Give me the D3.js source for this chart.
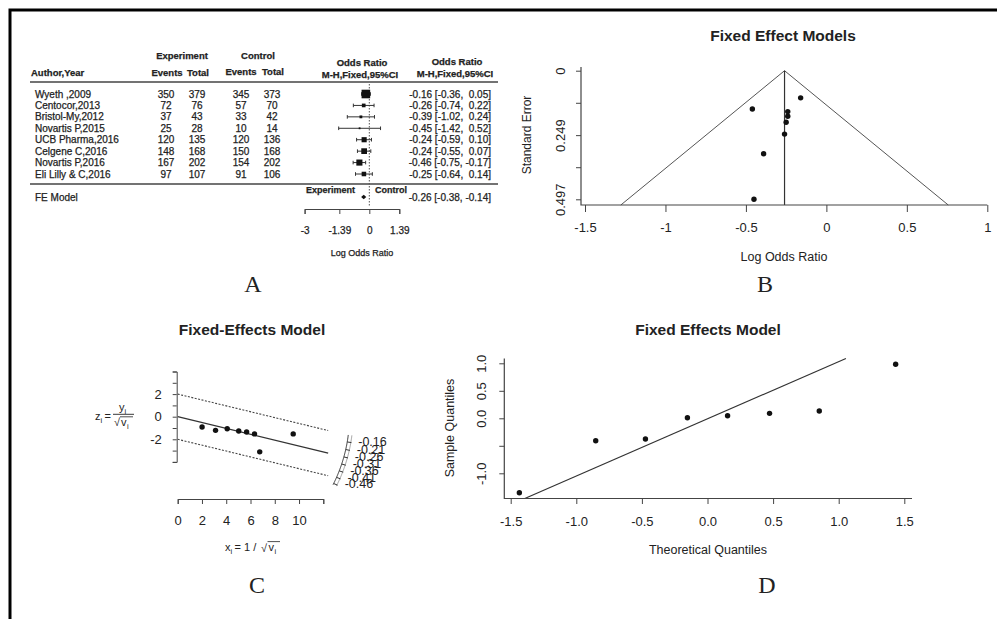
<!DOCTYPE html>
<html>
<head>
<meta charset="utf-8">
<script src="https://cdnjs.cloudflare.com/ajax/libs/d3/7.8.5/d3.min.js"></script>
<style>
  body { margin: 0; background: #fff; }
  svg text { font-family: "Liberation Sans", Arial, sans-serif; fill: #222; }
  .forest text { stroke: #222; stroke-width: 0.25; }
</style>
</head>
<body>
<div id="chart"></div>
<script>
// ---- data ----
const studies = ["Wyeth ,2009", "Centocor,2013", "Bristol-My,2012", "Novartis P,2015",
  "UCB Pharma,2016", "Celgene C,2016", "Novartis P,2016", "Eli Lilly & C,2016"];
const expEvents = [350, 72, 37, 25, 120, 148, 167, 97];
const expTotal = [379, 76, 43, 28, 135, 168, 202, 107];
const ctrlEvents = [345, 57, 33, 10, 120, 150, 154, 91];
const ctrlTotal = [373, 70, 42, 14, 136, 168, 202, 106];
const logOR = [-0.16, -0.26, -0.39, -0.45, -0.24, -0.24, -0.46, -0.25];
const ciLow = [-0.36, -0.74, -1.02, -1.42, -0.59, -0.55, -0.75, -0.64];
const ciHigh = [0.05, 0.22, 0.24, 0.52, 0.10, 0.07, -0.17, 0.14];
const stdErr = [0.105, 0.245, 0.321, 0.497, 0.176, 0.158, 0.148, 0.199];
const feModel = { est: -0.26, low: -0.38, high: -0.14 };
const forestTicks = [-3, -1.39, 0, 1.39];

const funnelXTicks = [-1.5, -1, -0.5, 0, 0.5, 1];
const funnelYTicks = [0, 0.124, 0.249, 0.373, 0.497];
const funnelYLabels = ["0", "", "0.249", "", "0.497"];

// radial (Galbraith) plot, panel C
const radialXi = [9.52, 4.08, 3.12, 2.01, 5.68, 6.33, 6.76, 5.03];
const radialZi = [-1.52, -1.06, -1.21, -0.91, -1.36, -1.52, -3.11, -1.26];
const radialArcLabels = [-0.16, -0.21, -0.26, -0.31, -0.36, -0.41, -0.46];
const radialXTicks = [0, 2, 4, 6, 8, 10, 12];
const radialXLabels = ["0", "2", "4", "6", "8", "10", ""];
const radialYTicks = [-4, -3, -2, -1, 0, 1, 2, 3, 4];
const radialYLabels = ["", "", "-2", "", "0", "", "2", "", ""];

// normal QQ plot, panel D
const qqTheoretical = [-1.434, -0.852, -0.473, -0.153, 0.153, 0.473, 0.852, 1.434];
const qqSample = [-1.353, -0.407, -0.376, 0.011, 0.047, 0.09, 0.133, 0.982];
const qqXTicks = [-1.5, -1, -0.5, 0, 0.5, 1, 1.5];
const qqYTicks = [-1, -0.5, 0, 0.5, 1];
const qqYLabels = ["-1.0", "", "0.0", "0.5", "1.0"];
const qqLine = { intercept: -0.01, slope: 1.04 };

const W = 997, H = 619;
const svg = d3.select("#chart").append("svg").attr("width", W).attr("height", H);
svg.append("rect").attr("width", W).attr("height", H).attr("fill", "#fff");
svg.append("path").attr("d", "M10,619V10H997")
  .attr("fill", "none").attr("stroke", "#000").attr("stroke-width", 3);

function label(g, t, x, y, size, opts = {}) {
  return g.append("text")
    .attr("x", x).attr("y", y).attr("dy", "0.35em")
    .attr("font-size", size)
    .attr("font-weight", opts.weight || "normal")
    .attr("text-anchor", opts.anchor || "middle")
    .attr("transform", opts.rotate ? `rotate(-90,${x},${y})` : null)
    .text(t);
}

function styleAxis(sel, size) {
  sel.attr("color", "#444").attr("font-size", size).attr("font-family", null);
  sel.selectAll("text").style("fill", "#222");
}

// rotated tick labels like R's default y axis
function rotateTickLabels(sel, offset) {
  sel.selectAll(".tick text")
    .attr("x", null).attr("dy", "0.35em")
    .attr("text-anchor", "middle")
    .attr("transform", `translate(${offset},0) rotate(-90)`);
}

function panelLetter(t, x, y) {
  svg.append("text").attr("x", x).attr("y", y)
    .attr("text-anchor", "middle").attr("font-size", 24)
    .style("font-family", "'Liberation Serif', 'Times New Roman', serif")
    .text(t);
}

// ---------- A: forest plot ----------
function drawForest() {
  const g = svg.append("g").attr("class", "forest");
  const x = d3.scaleLinear().domain([-3, 1.39]).range([304.6, 399.3]);
  const y = d3.scalePoint().domain(studies).range([94, 174]);
  const maxW = d3.max(stdErr, s => 1 / (s * s));

  label(g, "Experiment", 182, 56, 9.5, { weight: "bold" });
  label(g, "Control", 258, 56, 9.5, { weight: "bold" });
  label(g, "Author,Year", 31, 73, 9.5, { weight: "bold", anchor: "start" });
  label(g, "Events", 167, 73, 9.5, { weight: "bold" });
  label(g, "Total", 198, 73, 9.5, { weight: "bold" });
  label(g, "Events", 241, 72, 9.5, { weight: "bold" });
  label(g, "Total", 273, 72, 9.5, { weight: "bold" });
  label(g, "Odds Ratio", 362, 63, 9.5, { weight: "bold" });
  label(g, "M-H,Fixed,95%CI", 360, 75, 9.5, { weight: "bold" });
  label(g, "Odds Ratio", 457, 62, 9.5, { weight: "bold" });
  label(g, "M-H,Fixed,95%CI", 455, 74, 9.5, { weight: "bold" });

  [82, 184].forEach(yy => g.append("line")
    .attr("x1", 30).attr("x2", 498).attr("y1", yy).attr("y2", yy)
    .attr("stroke", "#444").attr("stroke-width", 1.6));

  // reference line at 0
  g.append("line").attr("x1", x(0)).attr("x2", x(0)).attr("y1", 84).attr("y2", 206)
    .attr("stroke", "#555").attr("stroke-dasharray", "1.5,1.5");

  const fmt = v => (v < 0 ? "" : " ") + v.toFixed(2);
  studies.forEach((s, i) => {
    const yy = y(s);
    label(g, s, 35, yy, 10, { anchor: "start" });
    label(g, expEvents[i], 166, yy, 10);
    label(g, expTotal[i], 197, yy, 10);
    label(g, ctrlEvents[i], 241, yy, 10);
    label(g, ctrlTotal[i], 272, yy, 10);
    g.append("text").attr("x", 491).attr("y", yy).attr("dy", "0.35em")
      .attr("font-size", 10).attr("text-anchor", "end")
      .style("white-space", "pre").attr("xml:space", "preserve")
      .text(`${logOR[i].toFixed(2)} [${ciLow[i].toFixed(2)}, ${fmt(ciHigh[i])}]`);

    g.append("line").attr("x1", x(ciLow[i])).attr("x2", x(ciHigh[i]))
      .attr("y1", yy).attr("y2", yy).attr("stroke", "#333");
    [ciLow[i], ciHigh[i]].forEach(v => g.append("line")
      .attr("x1", x(v)).attr("x2", x(v)).attr("y1", yy - 1.8).attr("y2", yy + 1.8)
      .attr("stroke", "#333"));
    const side = Math.max(1.8, 8.6 * Math.sqrt((1 / (stdErr[i] * stdErr[i])) / maxW));
    g.append("rect").attr("x", x(logOR[i]) - side / 2).attr("y", yy - side / 2)
      .attr("width", side).attr("height", side).attr("fill", "#111");
  });

  // FE model row
  const fy = 197;
  label(g, "FE Model", 35, fy, 10, { anchor: "start" });
  label(g, "Experiment", 355, 190, 9, { weight: "bold", anchor: "end" });
  label(g, "Control", 375, 190, 9, { weight: "bold", anchor: "start" });
  g.append("path")
    .attr("d", `M${x(feModel.low)},${fy}L${x(feModel.est)},${fy - 2.2}L${x(feModel.high)},${fy}L${x(feModel.est)},${fy + 2.2}Z`)
    .attr("fill", "#111");
  label(g, `${feModel.est.toFixed(2)} [${feModel.low.toFixed(2)}, ${feModel.high.toFixed(2)}]`, 491, fy, 10, { anchor: "end" });

  const ax = g.append("g").attr("transform", "translate(0,209)")
    .call(d3.axisBottom(x).tickValues(forestTicks).tickSize(5).tickSizeOuter(5)
      .tickPadding(13).tickFormat(d => String(d)));
  styleAxis(ax, 10);
  label(g, "Log Odds Ratio", 362, 253, 9);
}

// ---------- B: funnel plot ----------
function drawFunnel() {
  const g = svg.append("g");
  const x = d3.scaleLinear().domain([-1.5, 1]).range([585, 987.3]);
  const y = d3.scaleLinear().domain([0, 0.497]).range([70.7, 199.3]);
  const bottom = 205;
  const seB = y.invert(bottom);

  label(g, "Fixed Effect Models", 783, 36, 15.5, { weight: "bold" });

  g.append("path")
    .attr("d", d3.line()([[x(feModel.est - 1.96 * seB), bottom], [x(feModel.est), y(0)],
      [x(feModel.est + 1.96 * seB), bottom]]))
    .attr("fill", "none").attr("stroke", "#555").attr("stroke-width", 1);
  g.append("line").attr("x1", x(feModel.est)).attr("x2", x(feModel.est))
    .attr("y1", y(0)).attr("y2", bottom).attr("stroke", "#333").attr("stroke-width", 1.2);

  g.append("path").attr("d", `M581,67V${bottom}H987.3`)
    .attr("fill", "none").attr("stroke", "#444").attr("stroke-width", 1.2);

  const ax = g.append("g").attr("transform", `translate(0,${bottom})`)
    .call(d3.axisBottom(x).tickValues(funnelXTicks).tickSize(7).tickPadding(11)
      .tickFormat(d => String(d)));
  ax.select(".domain").remove();
  styleAxis(ax, 13);

  const ay = g.append("g").attr("transform", "translate(581,0)")
    .call(d3.axisLeft(y).tickValues(funnelYTicks).tickSize(5)
      .tickFormat((d, i) => funnelYLabels[i]));
  ay.select(".domain").remove();
  styleAxis(ay, 13);
  rotateTickLabels(ay, -21);

  g.selectAll("circle").data(logOR).enter().append("circle")
    .attr("cx", d => x(d)).attr("cy", (d, i) => y(stdErr[i]))
    .attr("r", 2.7).attr("fill", "#111");

  label(g, "Standard Error", 527, 135, 12, { rotate: true });
  label(g, "Log Odds Ratio", 784, 257, 12.5);
}

// ---------- C: radial plot ----------
function drawRadial() {
  const g = svg.append("g");
  const x = d3.scaleLinear().domain([0, 12]).range([177.7, 323.3]);
  const y = d3.scaleLinear().domain([-4, 4]).range([461.9, 371.5]);
  const xEnd = 12.4;

  label(g, "Fixed-Effects Model", 252, 330, 15.5, { weight: "bold" });

  g.append("line").attr("x1", x(0)).attr("y1", y(0))
    .attr("x2", x(xEnd)).attr("y2", y(feModel.est * xEnd))
    .attr("stroke", "#333").attr("stroke-width", 1.3);
  [2, -2].forEach(c => g.append("line")
    .attr("x1", x(0)).attr("y1", y(c))
    .attr("x2", x(xEnd)).attr("y2", y(c + feModel.est * xEnd))
    .attr("stroke", "#444").attr("stroke-width", 1.1).attr("stroke-dasharray", "2,1.5"));

  // arc scale on the right
  const R = 14.15;
  const pt = (v, r) => [x(r * Math.cos(Math.atan(v))), y(r * Math.sin(Math.atan(v)))];
  const arcVals = d3.range(-0.115, -0.471, -0.005);
  g.append("path").attr("d", d3.line()(arcVals.map(v => pt(v, R))))
    .attr("fill", "none").attr("stroke", "#333").attr("stroke-width", 1);
  g.append("path").attr("d", d3.line()(arcVals.map(v => pt(v, R + 0.3))))
    .attr("fill", "none").attr("stroke", "#666").attr("stroke-width", 0.6);
  radialArcLabels.forEach(v => {
    const [x1, y1] = pt(v, R);
    const [x2, y2] = pt(v, R + 0.35);
    g.append("line").attr("x1", x1).attr("y1", y1).attr("x2", x2).attr("y2", y2)
      .attr("stroke", "#333");
    label(g, v.toFixed(2), x1 + 11, y1, 12.5, { anchor: "start" });
  });

  g.selectAll("circle").data(radialXi).enter().append("circle")
    .attr("cx", d => x(d)).attr("cy", (d, i) => y(radialZi[i]))
    .attr("r", 2.7).attr("fill", "#111");

  const ax = g.append("g").attr("transform", "translate(0,499)")
    .call(d3.axisBottom(x).tickValues(radialXTicks).tickSize(5).tickSizeOuter(5)
      .tickPadding(12).tickFormat((d, i) => radialXLabels[i]));
  styleAxis(ax, 13);
  const ay = g.append("g").attr("transform", "translate(176.7,0)")
    .call(d3.axisLeft(y).tickValues(radialYTicks).tickSize(4).tickSizeOuter(4)
      .tickPadding(11).tickFormat((d, i) => radialYLabels[i]));
  styleAxis(ay, 13);

  // z_i = y_i / sqrt(v_i)
  const fs = 11;
  const t = (txt, xx, yy, size = fs, anchor = "start") => g.append("text")
    .attr("x", xx).attr("y", yy).attr("font-size", size).attr("text-anchor", anchor).text(txt);
  t("z", 95, 420);
  t("i", 100.5, 423, 7.5);
  t("=", 104.5, 420);
  t("y", 119, 411);
  t("i", 124.5, 414, 7.5);
  g.append("line").attr("x1", 113).attr("x2", 134).attr("y1", 414.3).attr("y2", 414.3)
    .attr("stroke", "#222").attr("stroke-width", 0.9);
  t("\u221A", 114, 426);
  g.append("line").attr("x1", 120).attr("x2", 133).attr("y1", 416.8).attr("y2", 416.8)
    .attr("stroke", "#222").attr("stroke-width", 0.8);
  t("v", 121, 426);
  t("i", 127, 429, 7.5);

  // x_i = 1 / sqrt(v_i)
  t("x", 225, 551);
  t("i", 230.5, 554, 7.5);
  t("= 1 /", 234.5, 551);
  g.append("text").attr("x", 261).attr("y", 552).attr("font-size", fs).text("\u221A");
  g.append("line").attr("x1", 267.5).attr("x2", 280).attr("y1", 541.6).attr("y2", 541.6)
    .attr("stroke", "#222").attr("stroke-width", 0.8);
  t("v", 268.5, 551);
  t("i", 274.5, 554, 7.5);
}

// ---------- D: QQ plot ----------
function drawQQ() {
  const g = svg.append("g");
  const x = d3.scaleLinear().domain([-1.5, 1.5]).range([510.7, 904.3]);
  const y = d3.scaleLinear().domain([-1, 1]).range([473.3, 363.3]);
  const left = 504.3, right = 912, top = 358.5, bottom = 498.5;

  label(g, "Fixed Effects Model", 708, 330, 15.5, { weight: "bold" });

  // reference line clipped to the plot region
  const xlo = Math.max(x.invert(left), (y.invert(bottom) - qqLine.intercept) / qqLine.slope);
  const xhi = Math.min(x.invert(right), (y.invert(top) - qqLine.intercept) / qqLine.slope);
  g.append("line")
    .attr("x1", x(xlo)).attr("y1", y(qqLine.intercept + qqLine.slope * xlo))
    .attr("x2", x(xhi)).attr("y2", y(qqLine.intercept + qqLine.slope * xhi))
    .attr("stroke", "#333").attr("stroke-width", 1.2);

  g.append("path").attr("d", `M${left},${top}V${bottom}H${right}`)
    .attr("fill", "none").attr("stroke", "#444").attr("stroke-width", 1.2);

  const ax = g.append("g").attr("transform", `translate(0,${bottom})`)
    .call(d3.axisBottom(x).tickValues(qqXTicks).tickSize(5.5).tickPadding(12.5)
      .tickFormat(d => d.toFixed(1)));
  ax.select(".domain").remove();
  styleAxis(ax, 13);

  const ay = g.append("g").attr("transform", `translate(${left},0)`)
    .call(d3.axisLeft(y).tickValues(qqYTicks).tickSize(5)
      .tickFormat((d, i) => qqYLabels[i]));
  ay.select(".domain").remove();
  styleAxis(ay, 13);
  rotateTickLabels(ay, -22.6);

  g.selectAll("circle").data(qqTheoretical).enter().append("circle")
    .attr("cx", d => x(d)).attr("cy", (d, i) => y(qqSample[i]))
    .attr("r", 2.7).attr("fill", "#111");

  label(g, "Sample Quantiles", 450, 428, 12.5, { rotate: true });
  label(g, "Theoretical Quantiles", 708, 550, 12.5);
}

drawForest();
drawFunnel();
drawRadial();
drawQQ();

panelLetter("A", 253, 292);
panelLetter("B", 765, 292);
panelLetter("C", 257, 593);
panelLetter("D", 767, 593);
</script>
</body>
</html>
